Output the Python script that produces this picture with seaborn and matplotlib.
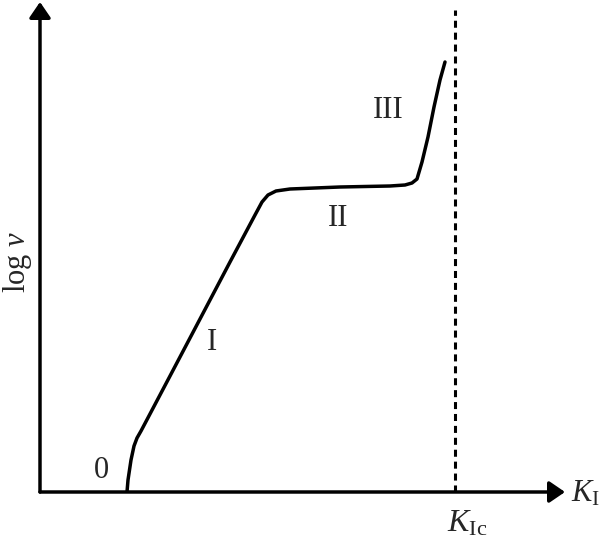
import matplotlib
matplotlib.use("Agg")
import matplotlib.pyplot as plt
import seaborn as sns
import pandas as pd

# Curve data (K_I, log v) in arbitrary units
k_values = [87, 88, 91, 94, 97, 101, 130, 160, 190, 215, 222, 228, 236, 250,
            300, 350, 365, 372, 377, 382, 388, 394, 400, 405]
logv_values = [0, 12, 32, 46, 54, 61, 116, 173, 230, 277, 290, 297, 301, 303,
               305, 306, 307, 309, 313, 330, 355, 385, 412, 430]
k_ic = 415
stage_labels = ["0", "I", "II", "III"]
stage_x = [61, 172, 298, 348]
stage_y = [21, 150, 273, 382]

sns.set_style("white")
plt.rcParams["font.family"] = ["Liberation Serif", "DejaVu Serif"]
plt.rcParams["mathtext.fontset"] = "custom"
plt.rcParams["mathtext.rm"] = "Liberation Serif"
plt.rcParams["mathtext.it"] = "Liberation Serif:italic"

fig = plt.figure(figsize=(6, 5.4), dpi=100)
ax = fig.add_axes([40 / 600, 48 / 540, 525 / 600, 490 / 540])
ax.set_xlim(0, 525)
ax.set_ylim(0, 490)
for s in ax.spines.values():
    s.set_visible(False)
ax.set_xticks([])
ax.set_yticks([])

df = pd.DataFrame({"K": k_values, "logv": logv_values})
sns.lineplot(data=df, x="K", y="logv", sort=False, estimator=None,
             color="black", lw=2.5, ax=ax)
ax.set_xlabel("")
ax.set_ylabel("")

# dashed K_Ic line
ax.plot([k_ic, k_ic], [0, 482], color="black", lw=2.2,
        linestyle=(0, (2.3, 1.6)), clip_on=False)

# axes with arrows
from matplotlib.patches import ArrowStyle
style = ArrowStyle("-|>", head_length=0.95, head_width=0.65)
ax.annotate("", xy=(525, 0), xytext=(0, 0),
            arrowprops=dict(arrowstyle=style, mutation_scale=10, lw=2.5,
                            color="black", shrinkA=0, shrinkB=0),
            annotation_clip=False)
ax.annotate("", xy=(0, 490), xytext=(0, 0),
            arrowprops=dict(arrowstyle=style, mutation_scale=10, lw=2.5,
                            color="black", shrinkA=0, shrinkB=0),
            annotation_clip=False)

for lab, x, y in zip(stage_labels, stage_x, stage_y):
    ax.text(x, y, lab, ha="center", va="center", fontsize=22)

ax.text(531, -10, r"$K_{\mathrm{I}}$", ha="left", va="baseline",
        fontsize=22, clip_on=False)
ax.text(407, -40, r"$K_{\mathrm{Ic}}$", ha="left", va="baseline",
        fontsize=23, clip_on=False)
ax.text(-22, 230, r"$\mathrm{log}\ v$", ha="center", va="center",
        rotation=90, fontsize=22, clip_on=False)

fig.savefig("out.png", dpi=100)
